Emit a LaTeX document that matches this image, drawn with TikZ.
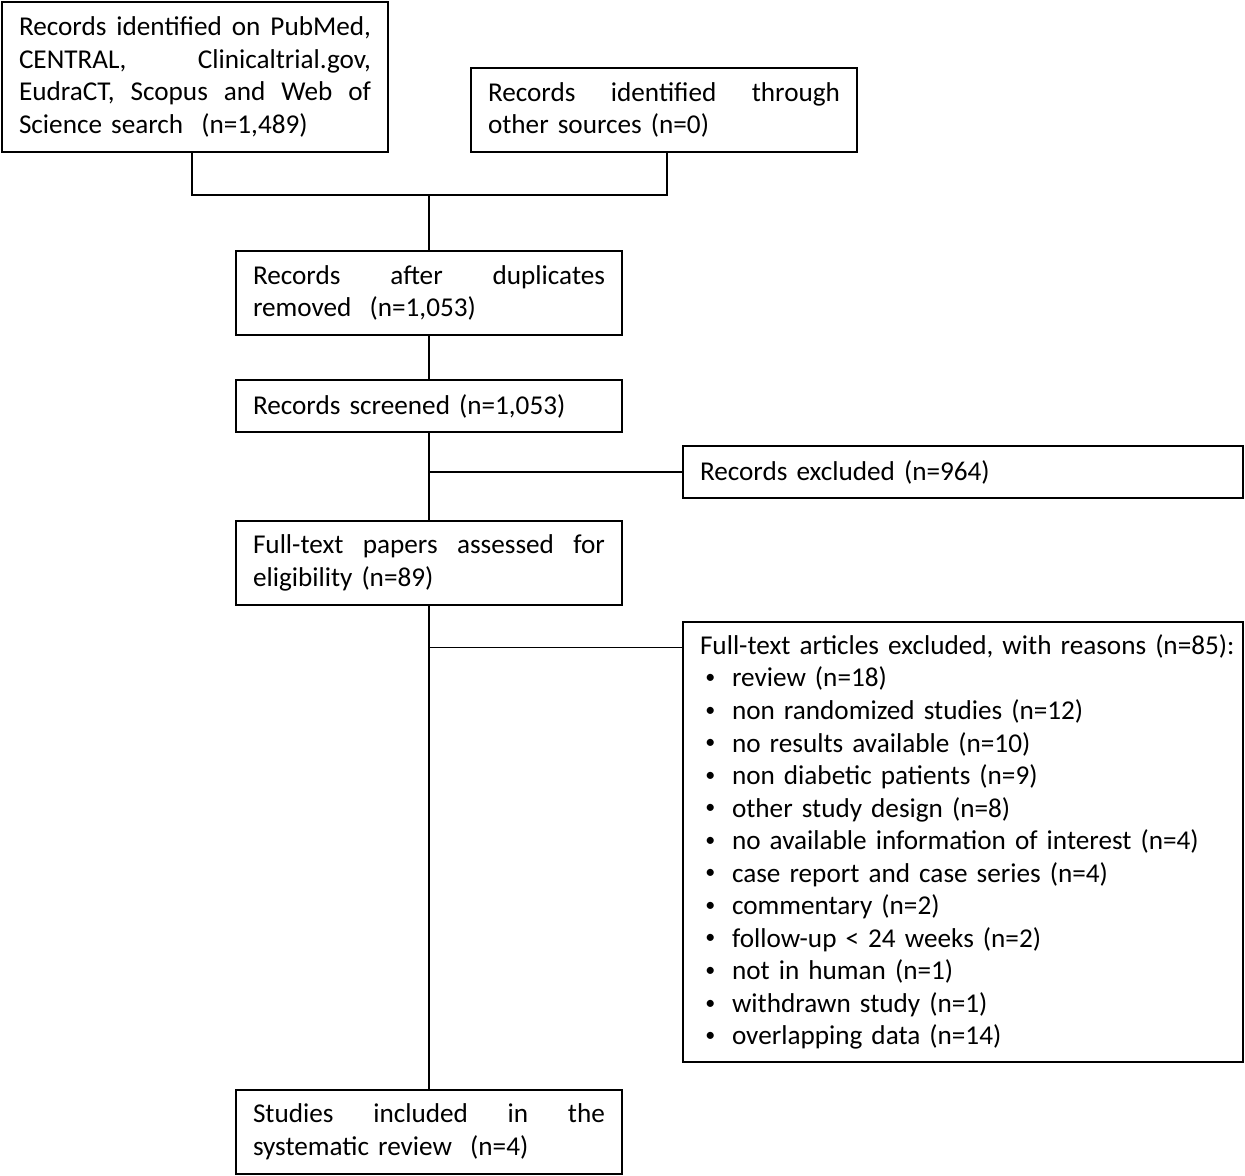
\documentclass[tikz,border=0pt]{standalone}
\usepackage{fontspec}
\setmainfont{Carlito}
\newcommand{\jl}[1]{\makebox[\hsize][s]{\spaceskip=0pt\xspaceskip=0pt #1}\\}
\newcommand{\bul}[1]{\makebox[24pt][l]{\hspace{4pt}\raisebox{0.12em}{\fontsize{15}{15}\selectfont\textbullet}}#1}
\begin{document}
\begin{tikzpicture}[x=0.75pt,y=-0.75pt,
  box/.style={draw,line width=1.1pt,rectangle,inner xsep=12.75pt,inner ysep=0pt,
    font=\fontsize{20.4}{24.4}\selectfont,align=left},
  nbox/.style={box,minimum width=289.5pt,text width=264pt},
  wbox/.style={box,minimum width=420pt,text width=394.5pt},
  link/.style={line width=1.1pt}]
\useasboundingbox (0,0) rectangle (1245,1176);
\node[nbox,minimum height=112.5pt] (A) at (195,77) {\jl{Records identified on PubMed,}\jl{CENTRAL, Clinicaltrial.gov,}\jl{EudraCT, Scopus and Web of}Science search~ (n=1,489)};
\node[nbox,minimum height=63pt] (B) at (664,110) {\jl{Records identified through}other sources (n=0)};
\node[nbox,minimum height=63pt] (C) at (429,293) {\jl{Records after duplicates}removed~ (n=1,053)};
\node[nbox,minimum height=39pt] (D) at (429,406) {Records screened (n=1,053)};
\node[wbox,minimum height=39pt] (E) at (963,472) {Records excluded (n=964)};
\node[nbox,minimum height=63pt] (F) at (429,563) {\jl{Full-text papers assessed for}eligibility (n=89)};
\node[wbox,minimum height=330pt] (G) at (963,842) {\mbox{Full-text articles excluded, with reasons (n=85):}\\
\bul{review (n=18)}\\
\bul{non randomized studies (n=12)}\\
\bul{no results available (n=10)}\\
\bul{non diabetic patients (n=9)}\\
\bul{other study design (n=8)}\\
\bul{no available information of interest (n=4)}\\
\bul{case report and case series (n=4)}\\
\bul{commentary (n=2)}\\
\bul{follow-up < 24 weeks (n=2)}\\
\bul{not in human (n=1)}\\
\bul{withdrawn study (n=1)}\\
\bul{overlapping data (n=14)}};
\node[nbox,minimum height=63pt] (H) at (429,1132) {\jl{Studies included in the}systematic review~ (n=4)};
\coordinate (m) at (429,195);
\draw[link] (A.south) ++(-3,0) coordinate (as) |- (m);
\draw[link] (B.south) ++(3,0) coordinate (bs) |- (m);
\draw[link] (m) -- (C.north);
\draw[link] (C) -- (D);
\draw[link] (D) -- (F);
\draw[link] (E.west) -- (E.west -| D.south);
\draw[link] (F) -- (H);
\path (G.north west) ++(0,26) coordinate (gw);
\draw[link] (gw) -- (gw -| F.south);
\end{tikzpicture}
\end{document}
